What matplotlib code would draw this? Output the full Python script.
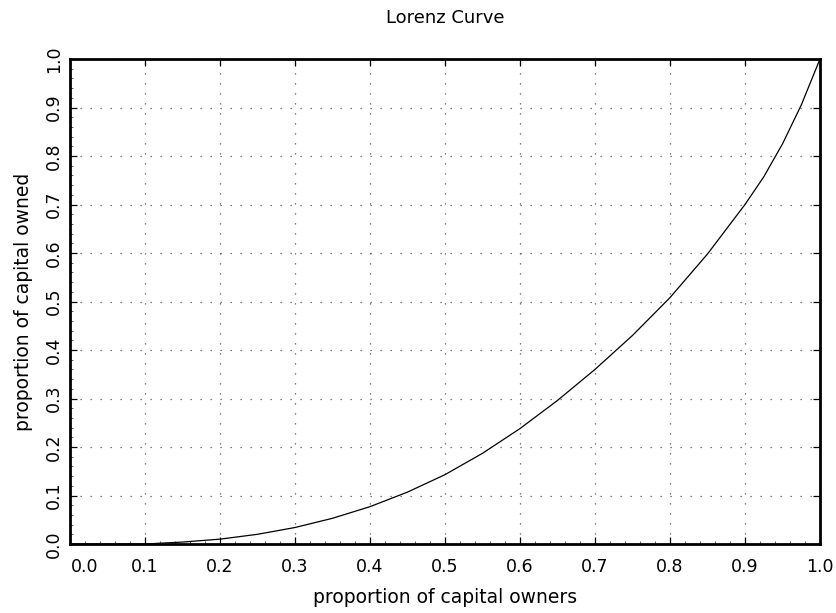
import matplotlib
matplotlib.use("Agg")
import matplotlib.pyplot as plt
import matplotlib.transforms as mtransforms
from matplotlib.ticker import AutoMinorLocator

# Data
owners = [0.0, 0.05, 0.10, 0.15, 0.20, 0.25, 0.30, 0.35, 0.40, 0.45, 0.50,
          0.55, 0.60, 0.65, 0.70, 0.75, 0.80, 0.85, 0.90, 0.925, 0.95, 0.975, 1.0]
owned = [0.0, 0.0, 0.0, 0.004, 0.010, 0.020, 0.034, 0.053, 0.077, 0.107, 0.143,
         0.187, 0.238, 0.296, 0.360, 0.430, 0.508, 0.598, 0.700, 0.757, 0.825, 0.905, 1.0]
tick_vals = [0.0, 0.1, 0.2, 0.3, 0.4, 0.5, 0.6, 0.7, 0.8, 0.9, 1.0]
tick_labels = ["0.0", "0.1", "0.2", "0.3", "0.4", "0.5", "0.6", "0.7", "0.8", "0.9", "1.0"]

plt.rcParams['font.family'] = ['DejaVu Sans']

fig = plt.figure(figsize=(8.36, 6.13), dpi=100)
ax = fig.add_axes([70/836, 1-544/613, 750/836, 485/613])

ax.plot(owners, owned, color='black', linewidth=0.9)

ax.set_xlim(0, 1)
ax.set_ylim(0, 1)
ax.set_xticks(tick_vals)
ax.set_xticklabels(tick_labels)
ax.set_yticks(tick_vals)
ax.set_yticklabels(tick_labels, rotation=90, va='center')
ax.xaxis.set_minor_locator(AutoMinorLocator(5))
ax.yaxis.set_minor_locator(AutoMinorLocator(5))

ax.tick_params(which='major', direction='in', length=5, width=0.9,
               top=True, right=True, labelsize=12.5, colors='black')
ax.tick_params(which='minor', direction='in', length=2.5, width=0.6,
               top=False, right=False, color='#444444')
ax.tick_params(axis='x', which='major', pad=10)
ax.tick_params(axis='y', which='major', pad=5)

for s in ax.spines.values():
    s.set_linewidth(2.0)

ax.grid(True, which='major', linestyle=(0, (1, 7)), linewidth=0.9, color='#555555')

# shift the first x tick label right, like the reference
lbl = ax.get_xticklabels()[0]
lbl.set_transform(lbl.get_transform() + mtransforms.ScaledTranslation(15/100, 0, fig.dpi_scale_trans))

ax.set_title("Lorenz Curve", fontsize=13, pad=26)
ax.set_xlabel("proportion of capital owners", fontsize=13.5, labelpad=9)
ax.set_ylabel("proportion of capital owned", fontsize=13.5, labelpad=9)

fig.savefig("out.png", dpi=100)
